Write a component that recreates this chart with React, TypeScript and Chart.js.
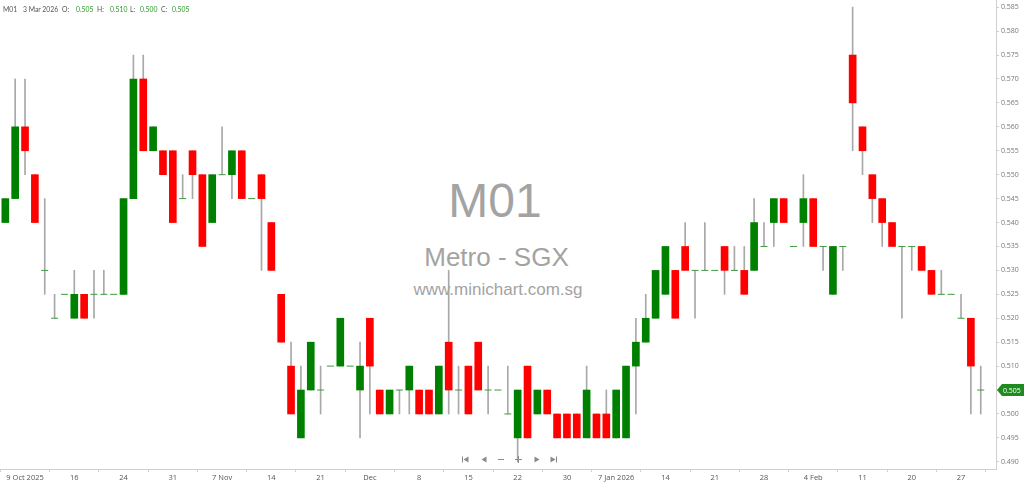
import React, { useEffect, useRef } from 'react';
import { Chart, registerables } from 'chart.js';
Chart.register(...registerables);

// ---- data ----
const xTickIndex = [2, 7, 12, 17, 22, 27, 32, 37, 42, 47, 52, 57, 62, 67, 72, 77, 82, 87, 92, 97];
const xTickLabels = ['9 Oct 2025', '16', '24', '31', '7 Nov', '14', '21', 'Dec', '8', '15', '22', '30', '7 Jan 2026', '14', '21', '28', '4 Feb', '11', '20', '27'];
const yTickValues = [0.49, 0.495, 0.5, 0.505, 0.51, 0.515, 0.52, 0.525, 0.53, 0.535, 0.54, 0.545, 0.55, 0.555, 0.56, 0.565, 0.57, 0.575, 0.58, 0.585];

const opens = [
  0.540, 0.545, 0.560, 0.550, 0.530, 0.520, 0.525, 0.520, 0.525, 0.525,
  0.525, 0.525, 0.525, 0.545, 0.570, 0.555, 0.555, 0.555, 0.545, 0.555,
  0.550, 0.540, 0.550, 0.550, 0.555, 0.545, 0.550, 0.540, 0.525, 0.510,
  0.495, 0.505, 0.505, 0.510, 0.510, 0.510, 0.505, 0.520, 0.505, 0.500,
  0.505, 0.505, 0.505, 0.505, 0.500, 0.515, 0.505, 0.510, 0.515, 0.505,
  0.505, 0.500, 0.495, 0.510, 0.500, 0.505, 0.500, 0.500, 0.500, 0.495,
  0.500, 0.500, 0.495, 0.495, 0.510, 0.515, 0.520, 0.525, 0.530, 0.535,
  0.530, 0.530, 0.530, 0.535, 0.530, 0.530, 0.530, 0.535, 0.540, 0.545,
  0.535, 0.540, 0.545, 0.535, 0.525, 0.535, 0.575, 0.560, 0.550, 0.545,
  0.540, 0.535, 0.535, 0.535, 0.530, 0.525, 0.525, 0.520, 0.520, 0.505,
];
const highs = [
  0.545, 0.570, 0.570, 0.550, 0.545, 0.525, 0.525, 0.530, 0.525, 0.530,
  0.530, 0.525, 0.545, 0.575, 0.575, 0.560, 0.555, 0.555, 0.550, 0.555,
  0.550, 0.550, 0.560, 0.555, 0.555, 0.545, 0.550, 0.540, 0.525, 0.515,
  0.510, 0.515, 0.510, 0.510, 0.520, 0.510, 0.515, 0.520, 0.505, 0.505,
  0.505, 0.510, 0.505, 0.505, 0.510, 0.530, 0.510, 0.510, 0.515, 0.510,
  0.505, 0.510, 0.505, 0.510, 0.505, 0.505, 0.500, 0.500, 0.500, 0.510,
  0.500, 0.505, 0.505, 0.510, 0.520, 0.525, 0.530, 0.535, 0.530, 0.540,
  0.530, 0.540, 0.530, 0.535, 0.535, 0.535, 0.545, 0.540, 0.545, 0.545,
  0.535, 0.550, 0.545, 0.535, 0.535, 0.535, 0.585, 0.560, 0.550, 0.545,
  0.540, 0.535, 0.535, 0.535, 0.530, 0.530, 0.525, 0.525, 0.520, 0.510,
];
const lows = [
  0.540, 0.545, 0.550, 0.540, 0.525, 0.520, 0.525, 0.520, 0.520, 0.520,
  0.525, 0.525, 0.525, 0.545, 0.555, 0.555, 0.550, 0.540, 0.545, 0.545,
  0.535, 0.540, 0.550, 0.545, 0.545, 0.545, 0.530, 0.530, 0.515, 0.500,
  0.495, 0.505, 0.500, 0.510, 0.510, 0.510, 0.495, 0.500, 0.500, 0.500,
  0.500, 0.500, 0.500, 0.500, 0.500, 0.500, 0.500, 0.500, 0.505, 0.500,
  0.505, 0.500, 0.490, 0.495, 0.500, 0.500, 0.495, 0.495, 0.495, 0.495,
  0.495, 0.495, 0.495, 0.495, 0.500, 0.515, 0.520, 0.525, 0.520, 0.530,
  0.520, 0.530, 0.530, 0.525, 0.530, 0.525, 0.530, 0.535, 0.535, 0.540,
  0.535, 0.535, 0.535, 0.530, 0.525, 0.530, 0.555, 0.550, 0.540, 0.535,
  0.535, 0.520, 0.530, 0.530, 0.525, 0.525, 0.525, 0.520, 0.500, 0.500,
];
const closes = [
  0.545, 0.560, 0.555, 0.540, 0.530, 0.520, 0.525, 0.525, 0.520, 0.525,
  0.525, 0.525, 0.545, 0.570, 0.555, 0.560, 0.550, 0.540, 0.545, 0.550,
  0.535, 0.550, 0.550, 0.555, 0.545, 0.545, 0.545, 0.530, 0.515, 0.500,
  0.505, 0.515, 0.505, 0.510, 0.520, 0.510, 0.510, 0.510, 0.500, 0.505,
  0.505, 0.510, 0.500, 0.500, 0.510, 0.505, 0.505, 0.500, 0.505, 0.505,
  0.505, 0.500, 0.505, 0.495, 0.505, 0.500, 0.495, 0.495, 0.495, 0.505,
  0.495, 0.495, 0.505, 0.510, 0.515, 0.520, 0.530, 0.535, 0.520, 0.530,
  0.530, 0.530, 0.530, 0.530, 0.530, 0.525, 0.540, 0.535, 0.545, 0.540,
  0.535, 0.545, 0.535, 0.535, 0.535, 0.535, 0.565, 0.555, 0.545, 0.540,
  0.535, 0.535, 0.535, 0.530, 0.525, 0.525, 0.525, 0.520, 0.510, 0.505,
];

const UP = '#008000';
const DOWN = '#ff0000';
const WICK = '#a8a8a8';
const DOJI = '#3f9a3f';

const idx = opens.map((_, i) => i);

const overlayPlugin = {
  id: 'overlay',
  afterDraw(chart: any) {
    const ctx = chart.ctx;
    const y = chart.scales.y;
    const last = closes[closes.length - 1];
    const py = Math.round(y.getPixelForValue(last));
    const left = chart.chartArea.right + 1;
    // price badge
    ctx.save();
    ctx.fillStyle = '#1f8a1f';
    ctx.beginPath();
    ctx.moveTo(left, py);
    ctx.lineTo(left + 5, py - 6);
    ctx.lineTo(1024, py - 6);
    ctx.lineTo(1024, py + 6);
    ctx.lineTo(left + 5, py + 6);
    ctx.closePath();
    ctx.fill();
    ctx.fillStyle = '#ffffff';
    ctx.font = '7px "Open Sans", "Noto Sans", sans-serif';
    ctx.textBaseline = 'middle';
    ctx.textAlign = 'left';
    ctx.fillText(last.toFixed(3), left + 6, py + 0.5);
    ctx.restore();

    // navigation icons
    ctx.save();
    ctx.fillStyle = '#8a8a8a';
    const cy = 459.5;
    const tri = (x: number, dir: number) => {
      ctx.beginPath();
      ctx.moveTo(x + (dir > 0 ? -2.5 : 2.5), cy - 3);
      ctx.lineTo(x + (dir > 0 ? 2.5 : -2.5), cy);
      ctx.lineTo(x + (dir > 0 ? -2.5 : 2.5), cy + 3);
      ctx.closePath();
      ctx.fill();
    };
    ctx.fillRect(462, cy - 3, 1, 6);
    tri(466, -1);
    tri(484, -1);
    ctx.fillRect(498, cy - 0.5, 6, 1);
    ctx.fillRect(515, cy - 0.5, 7, 1);
    ctx.fillRect(518, cy - 3.5, 1, 7);
    tri(537, 1);
    tri(553, 1);
    ctx.fillRect(556, cy - 3, 1, 6);
    ctx.restore();
  },
};

export default function App() {
  const ref = useRef<HTMLCanvasElement | null>(null);

  useEffect(() => {
    if (!ref.current) return;
    const bodyIdx = idx.filter((i) => opens[i] !== closes[i]);
    const wickIdx = idx.filter((i) => highs[i] !== lows[i]);
    const dojiIdx = idx.filter((i) => opens[i] === closes[i]);

    const chart = new Chart(ref.current, {
      type: 'bar',
      data: {
        datasets: [
          {
            type: 'line',
            label: 'doji',
            data: dojiIdx.map((i) => ({ x: i, y: opens[i] })),
            showLine: false,
            pointStyle: 'line',
            pointRadius: 3.5,
            pointBorderWidth: 1,
            borderColor: DOJI,
            backgroundColor: DOJI,
            order: 0,
          } as any,
          {
            type: 'bar',
            label: 'body',
            data: bodyIdx.map((i) => ({ x: i, y: [opens[i], closes[i]] })),
            backgroundColor: bodyIdx.map((i) => (closes[i] > opens[i] ? UP : DOWN)),
            borderWidth: 0,
            barThickness: 7,
            grouped: false,
            order: 1,
          } as any,
          {
            type: 'bar',
            label: 'wick',
            data: wickIdx.map((i) => ({ x: i, y: [lows[i], highs[i]] })),
            backgroundColor: WICK,
            borderWidth: 0,
            barThickness: 1,
            grouped: false,
            order: 2,
          } as any,
        ],
      },
      options: {
        animation: false,
        responsive: false,
        maintainAspectRatio: false,
        devicePixelRatio: 1,
        layout: { padding: 0, autoPadding: false },
        plugins: {
          legend: { display: false },
          tooltip: { enabled: false },
          title: { display: false },
        },
        scales: {
          x: {
            type: 'linear',
            position: 'bottom',
            min: -0.54,
            max: 100.55,
            offset: false,
            grid: { display: true, drawOnChartArea: false, drawTicks: true, tickLength: 3, color: '#cfcfcf' },
            border: { display: true, color: '#cfcfcf' },
            ticks: {
              autoSkip: false,
              maxRotation: 0,
              padding: 1,
              color: '#555555',
              font: { size: 7.5, family: '"Open Sans", "Noto Sans", sans-serif' },
              callback: (_v: any, i: number) => xTickLabels[i],
            },
            afterBuildTicks: (s: any) => {
              s.ticks = xTickIndex.map((v) => ({ value: v }));
            },
            afterFit: (s: any) => {
              s.height = 15;
              s.paddingLeft = 0;
              s.paddingRight = 0;
            },
          },
          y: {
            type: 'linear',
            position: 'right',
            min: 0.4885,
            max: 0.5865,
            grid: { display: true, drawOnChartArea: false, drawTicks: true, tickLength: 3, color: '#cfcfcf' },
            border: { display: true, color: '#cfcfcf' },
            ticks: {
              padding: 2,
              color: '#777777',
              font: { size: 7, family: '"Open Sans", "Noto Sans", sans-serif' },
              callback: (v: any) => Number(v).toFixed(3),
            },
            afterBuildTicks: (s: any) => {
              s.ticks = yTickValues.map((v) => ({ value: v }));
            },
            afterFit: (s: any) => {
              s.width = 28;
              s.paddingTop = 0;
              s.paddingBottom = 0;
            },
          },
        },
      } as any,
      plugins: [overlayPlugin],
    });
    return () => chart.destroy();
  }, []);

  const hdr: React.CSSProperties = {
    position: 'absolute',
    top: 4,
    fontFamily: 'Lato, "Open Sans", sans-serif',
    fontSize: 6.8,
    lineHeight: '10px',
    whiteSpace: 'nowrap',
  };
  const lab = '#555555';
  const val = '#2a9a2a';
  const wm: React.CSSProperties = {
    position: 'absolute',
    left: 0,
    width: 990,
    textAlign: 'center',
    color: '#a3a3a3',
    fontFamily: '"Liberation Sans", Arial, sans-serif',
    whiteSpace: 'nowrap',
  };

  return (
    <div style={{ position: 'fixed', left: 0, top: 0, width: 1024, height: 484, background: '#ffffff', overflow: 'hidden' }}>
      <div style={{ ...wm, top: 173, fontSize: 48, lineHeight: '56px' }}>M01</div>
      <div style={{ ...wm, top: 242, width: 993, fontSize: 26, lineHeight: '30px' }}>Metro - SGX</div>
      <div style={{ ...wm, top: 280, width: 996, fontSize: 17, lineHeight: '20px' }}>www.minichart.com.sg</div>
      <canvas ref={ref} width={1024} height={484} style={{ position: 'absolute', left: 0, top: 0, width: 1024, height: 484 }} />
      <span style={{ ...hdr, left: 3, color: lab }}>M01</span>
      <span style={{ ...hdr, left: 23, color: lab }}>3 Mar 2026</span>
      <span style={{ ...hdr, left: 62, color: lab }}>O:</span>
      <span style={{ ...hdr, left: 76, color: val }}>0.505</span>
      <span style={{ ...hdr, left: 97, color: lab }}>H:</span>
      <span style={{ ...hdr, left: 110, color: val }}>0.510</span>
      <span style={{ ...hdr, left: 130, color: lab }}>L:</span>
      <span style={{ ...hdr, left: 140, color: val }}>0.500</span>
      <span style={{ ...hdr, left: 161, color: lab }}>C:</span>
      <span style={{ ...hdr, left: 172, color: val }}>0.505</span>
    </div>
  );
}
